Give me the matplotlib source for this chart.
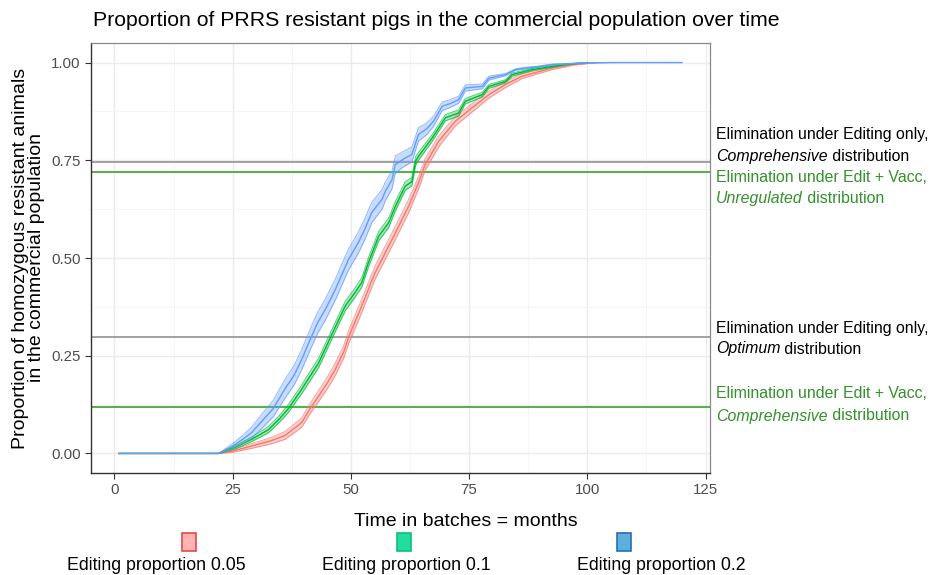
import matplotlib
matplotlib.use('Agg')
import matplotlib.pyplot as plt
from matplotlib.patches import Rectangle
from matplotlib.ticker import MultipleLocator
import numpy as np

plt.rcParams['font.family'] = ['Liberation Sans', 'DejaVu Sans']

# ---------------- data ----------------
red_t = [1, 22, 25, 29, 33, 36.1, 39.6, 41.4, 43.2, 45, 46.7, 48.5, 49.6, 52.3, 55.1, 58.7,
         62.2, 64.3, 65.7, 68.6, 72.1, 75.6, 79.2, 82.7, 86.2, 92.6, 97, 102]
red_p = [0, 0, 0.006, 0.019, 0.032, 0.046, 0.079, 0.115, 0.147, 0.18, 0.215, 0.26, 0.30, 0.377,
         0.462, 0.547, 0.632, 0.692, 0.739, 0.799, 0.85, 0.884, 0.918, 0.944, 0.965, 0.986, 0.995, 1.0]
red_s = [0, 0, 0.003, 0.006, 0.008, 0.01, 0.012, 0.013, 0.014, 0.015, 0.016, 0.016, 0.017, 0.017,
         0.017, 0.017, 0.017, 0.016, 0.015, 0.014, 0.012, 0.011, 0.009, 0.008, 0.006, 0.004, 0.002, 0]

green_t = [1, 22, 25.4, 29, 32.6, 35, 36.8, 39.6, 41.5, 43.2, 45.8, 48.8, 50.5, 52.3, 53.7, 55.9,
           58, 59.4, 61.5, 62.9, 63.7, 64.3, 67.2, 70, 72.8, 74.2, 77.8, 79.2, 82.7, 84.1, 88.3,
           92.6, 96, 100]
green_p = [0, 0, 0.015, 0.036, 0.061, 0.09, 0.115, 0.164, 0.2, 0.232, 0.30, 0.377, 0.405, 0.437,
           0.488, 0.556, 0.59, 0.632, 0.684, 0.695, 0.748, 0.76, 0.807, 0.859, 0.871, 0.901, 0.918,
           0.939, 0.952, 0.969, 0.982, 0.99, 0.996, 1.0]
green_s = [0, 0, 0.004, 0.006, 0.008, 0.009, 0.01, 0.011, 0.012, 0.012, 0.012, 0.012, 0.012, 0.012,
           0.012, 0.012, 0.012, 0.012, 0.011, 0.011, 0.011, 0.01, 0.009, 0.008, 0.008, 0.007, 0.006,
           0.005, 0.004, 0.004, 0.003, 0.002, 0.001, 0]

blue_t = [1, 22, 25, 27, 29, 31, 33.6, 36, 38, 39.6, 41.7, 43, 44.6, 46.7, 48, 49.5, 51.6, 53,
          54.4, 56.6, 57.3, 58.7, 59.4, 61, 62.9, 64.3, 66, 67.5, 69.3, 71, 72.8, 74.2, 76, 77.8,
          79.2, 81, 82.7, 84.8, 87, 89.8, 92.6, 96, 100, 105, 110, 120]
blue_p = [0, 0, 0.019, 0.035, 0.053, 0.08, 0.115, 0.164, 0.2, 0.24, 0.30, 0.335, 0.368, 0.419,
          0.455, 0.496, 0.54, 0.575, 0.616, 0.65, 0.671, 0.70, 0.739, 0.752, 0.765, 0.816, 0.83,
          0.85, 0.888, 0.895, 0.905, 0.935, 0.937, 0.939, 0.96, 0.965, 0.969, 0.982, 0.986, 0.99,
          0.995, 0.997, 0.999, 1.0, 1.0, 1.0]
blue_s = [0, 0, 0.006, 0.01, 0.014, 0.018, 0.021, 0.024, 0.025, 0.026, 0.027, 0.027, 0.027, 0.027,
          0.027, 0.027, 0.027, 0.027, 0.026, 0.025, 0.024, 0.023, 0.022, 0.02, 0.019, 0.017, 0.015,
          0.013, 0.011, 0.01, 0.009, 0.008, 0.007, 0.006, 0.005, 0.004, 0.003, 0.002, 0.002, 0.001,
          0.001, 0.0005, 0, 0, 0, 0]

series_labels = ["Editing proportion 0.05", "Editing proportion 0.1", "Editing proportion 0.2"]

hline_vals = [0.745, 0.721, 0.299, 0.118]
hline_kind = ["gray", "green", "gray", "green"]
annot_texts = [
    [("Elimination under Editing only,", "normal")],
    [("Comprehensive", "italic"), (" distribution", "normal")],
    [("Elimination under Edit + Vacc,", "normal")],
    [("Unregulated", "italic"), (" distribution", "normal")],
    [("Elimination under Editing only,", "normal")],
    [("Optimum", "italic"), (" distribution", "normal")],
    [("Elimination under Edit + Vacc,", "normal")],
    [("Comprehensive", "italic"), (" distribution", "normal")],
]
annot_y_px = [135, 157, 178, 198, 329, 349, 394, 416]
annot_color = ["black", "black", "green", "green", "black", "black", "green", "green"]

x_ticks = [0, 25, 50, 75, 100, 125]
y_ticks = [0.0, 0.25, 0.5, 0.75, 1.0]
y_ticklabels = ["0.00", "0.25", "0.50", "0.75", "1.00"]

# ---------------- style ----------------
W, H = 932, 575
line_cols = ['#F8766D', '#00BA38', '#619CFF']
key_fill = ['#FFB3B3', '#22DDA0', '#5BB0E0']
key_edge = ['#E8474B', '#12BF77', '#2A6FAD']
gray_line = '#9a9a9a'
green_line = '#44aa36'
green_text = '#33922b'

fig = plt.figure(figsize=(W / 100, H / 100), dpi=100)
ax = fig.add_axes([91 / W, 1 - 473 / H, 619 / W, 430 / H])
ax.set_xlim(-4.95, 125.95)
ax.set_ylim(-0.05, 1.05)

ax.xaxis.set_major_locator(MultipleLocator(25))
ax.xaxis.set_minor_locator(MultipleLocator(12.5))
ax.yaxis.set_major_locator(MultipleLocator(0.25))
ax.yaxis.set_minor_locator(MultipleLocator(0.125))
ax.grid(which='major', color='#EBEBEB', lw=1.0, zorder=0)
ax.grid(which='minor', color='#F4F4F4', lw=0.6, zorder=0)
ax.set_axisbelow(True)
ax.set_xticks(x_ticks)
ax.set_yticks(y_ticks)
ax.set_yticklabels(y_ticklabels)
ax.tick_params(which='major', length=4, color='#333333', labelcolor='#4D4D4D', labelsize=10.8, width=0.8)
ax.tick_params(which='minor', length=0)
for side in ['left', 'bottom']:
    ax.spines[side].set_color('#333333')
    ax.spines[side].set_linewidth(1.0)
for side in ['top', 'right']:
    ax.spines[side].set_color('#8a8a8a')
    ax.spines[side].set_linewidth(0.9)

for v, k in zip(hline_vals, hline_kind):
    ax.axhline(v, color=gray_line if k == 'gray' else green_line, lw=1.3, zorder=2)

for t, p, s, c in [(red_t, red_p, red_s, line_cols[0]),
                   (green_t, green_p, green_s, line_cols[1]),
                   (blue_t, blue_p, blue_s, line_cols[2])]:
    t = np.array(t); p = np.array(p); s = np.array(s)
    lo = np.clip(p - s, 0, 1); hi = np.clip(p + s, 0, 1)
    ax.fill_between(t, lo, hi, color=c, alpha=0.35, lw=0, zorder=3)
    ax.plot(t, lo, color=c, lw=0.7, alpha=0.7, zorder=4)
    ax.plot(t, hi, color=c, lw=0.7, alpha=0.7, zorder=4)
    ax.plot(t, p, color=c, lw=1.0, zorder=4)

ax.set_ylabel("Proportion of homozygous resistant animals\nin the commercial population",
              fontsize=14, labelpad=4, linespacing=0.95)

fig.text(466 / W, 1 - 522 / H, "Time in batches = months", fontsize=14, ha='center', va='center')

fig.text(93 / W, 1 - 20 / H, "Proportion of PRRS resistant pigs in the commercial population over time",
         fontsize=15.3, ha='left', va='center')

# annotations (mixed italic/normal)
fig.canvas.draw()
renderer = fig.canvas.get_renderer()
for parts, ypx, col in zip(annot_texts, annot_y_px, annot_color):
    x = 716
    color = green_text if col == 'green' else 'black'
    for txt, style in parts:
        tt = fig.text(x / W, 1 - ypx / H, txt, fontsize=11.4, style=style, color=color,
                      ha='left', va='center')
        bb = tt.get_window_extent(renderer=renderer)
        x += bb.width

# legend (manual, keys above labels)
key_x = [189, 404, 624]
lab_x = [156, 406, 661]
for i in range(3):
    fig.patches.append(Rectangle(((key_x[i] - 7) / W, 1 - 551 / H), 14 / W, 18 / H,
                                 transform=fig.transFigure, facecolor=key_fill[i],
                                 edgecolor=key_edge[i], lw=1.2))
    fig.text(lab_x[i] / W, 1 - 565 / H, series_labels[i], fontsize=12.8, ha='center', va='center')

fig.savefig('out.png', dpi=100, facecolor='white')
